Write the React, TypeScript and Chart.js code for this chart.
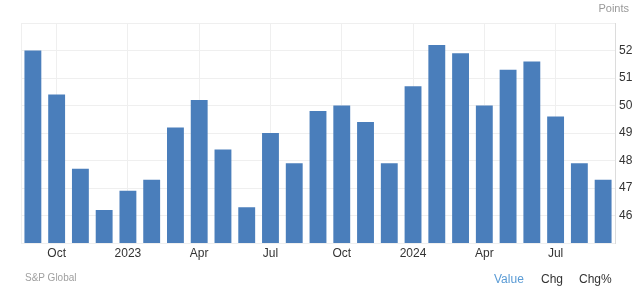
import React, { useEffect, useRef } from "react";
import { Chart, registerables } from "chart.js";

Chart.register(...registerables);

const months = [
  "2022-09", "2022-10", "2022-11", "2022-12",
  "2023-01", "2023-02", "2023-03", "2023-04", "2023-05", "2023-06",
  "2023-07", "2023-08", "2023-09", "2023-10", "2023-11", "2023-12",
  "2024-01", "2024-02", "2024-03", "2024-04", "2024-05", "2024-06",
  "2024-07", "2024-08", "2024-09",
];

const values = [
  52.0, 50.4, 47.7, 46.2,
  46.9, 47.3, 49.2, 50.2, 48.4, 46.3,
  49.0, 47.9, 49.8, 50.0, 49.4, 47.9,
  50.7, 52.2, 51.9, 50.0, 51.3, 51.6,
  49.6, 47.9, 47.3,
];

const tickLabels = [
  "", "Oct", "", "",
  "2023", "", "", "Apr", "", "",
  "Jul", "", "", "Oct", "", "",
  "2024", "", "", "Apr", "", "",
  "Jul", "", "",
];

const yMin = 45;
const yMax = 53;
const yShown = [46, 47, 48, 49, 50, 51, 52];

const FONT = "'Liberation Sans', Arial, sans-serif";

const leftBorder = {
  id: "leftBorder",
  beforeDatasetsDraw(chart: any) {
    const { ctx, chartArea } = chart;
    ctx.save();
    ctx.strokeStyle = "#efefef";
    ctx.lineWidth = 1;
    ctx.beginPath();
    ctx.moveTo(Math.round(chartArea.left) + 0.5, chartArea.top);
    ctx.lineTo(Math.round(chartArea.left) + 0.5, chartArea.bottom);
    ctx.stroke();
    ctx.restore();
  },
};

export default function App() {
  const ref = useRef<HTMLCanvasElement>(null);

  useEffect(() => {
    if (!ref.current) return;
    const chart = new Chart(ref.current, {
      type: "bar",
      data: {
        labels: months,
        datasets: [
          {
            data: values,
            backgroundColor: "#4a7ebb",
            borderWidth: 0,
            categoryPercentage: 1,
            barPercentage: 0.71,
          },
        ],
      },
      options: {
        animation: false,
        responsive: false,
        maintainAspectRatio: false,
        layout: { padding: { left: 21, top: 23, right: 0, bottom: 0 } },
        plugins: { legend: { display: false }, tooltip: { enabled: false } },
        scales: {
          x: {
            offset: true,
            grid: {
              offset: false,
              drawTicks: false,
              color: (c: any) => (tickLabels[c.index] ? "#efefef" : "rgba(0,0,0,0)"),
            },
            border: { display: false },
            ticks: {
              autoSkip: false,
              maxRotation: 0,
              padding: 3,
              color: "#333333",
              font: { family: FONT, size: 12 },
              callback: (_v: any, i: number) => tickLabels[i],
            },
            afterFit: (s: any) => {
              s.height = 46;
            },
          },
          y: {
            position: "right",
            min: yMin,
            max: yMax,
            grid: { drawTicks: false, color: "#efefef" },
            border: { display: true, color: "#dcdcdc" },
            ticks: {
              stepSize: 1,
              padding: 4,
              color: "#333333",
              font: { family: FONT, size: 12 },
              callback: (v: any) => (yShown.includes(Number(v)) ? String(v) : ""),
            },
            afterFit: (s: any) => {
              s.width = 25;
            },
          },
        },
      },
      plugins: [leftBorder],
    });
    return () => chart.destroy();
  }, []);

  return (
    <div style={{ position: "fixed", left: 0, top: 0, width: 640, height: 289, background: "#fff", fontFamily: FONT }}>
      <canvas ref={ref} width={640} height={289} style={{ position: "absolute", left: 0, top: 0 }} />
      <div style={{ position: "absolute", right: 11, top: 2, fontSize: 11, color: "#999" }}>Points</div>
      <div style={{ position: "absolute", left: 25, top: 272, fontSize: 10, color: "#a0a0a0" }}>S&amp;P Global</div>
      <div style={{ position: "absolute", left: 494, top: 272, fontSize: 12, color: "#5a9bd5" }}>Value</div>
      <div style={{ position: "absolute", left: 541, top: 272, fontSize: 12, color: "#333" }}>Chg</div>
      <div style={{ position: "absolute", left: 579, top: 272, fontSize: 12, color: "#333" }}>Chg%</div>
    </div>
  );
}
